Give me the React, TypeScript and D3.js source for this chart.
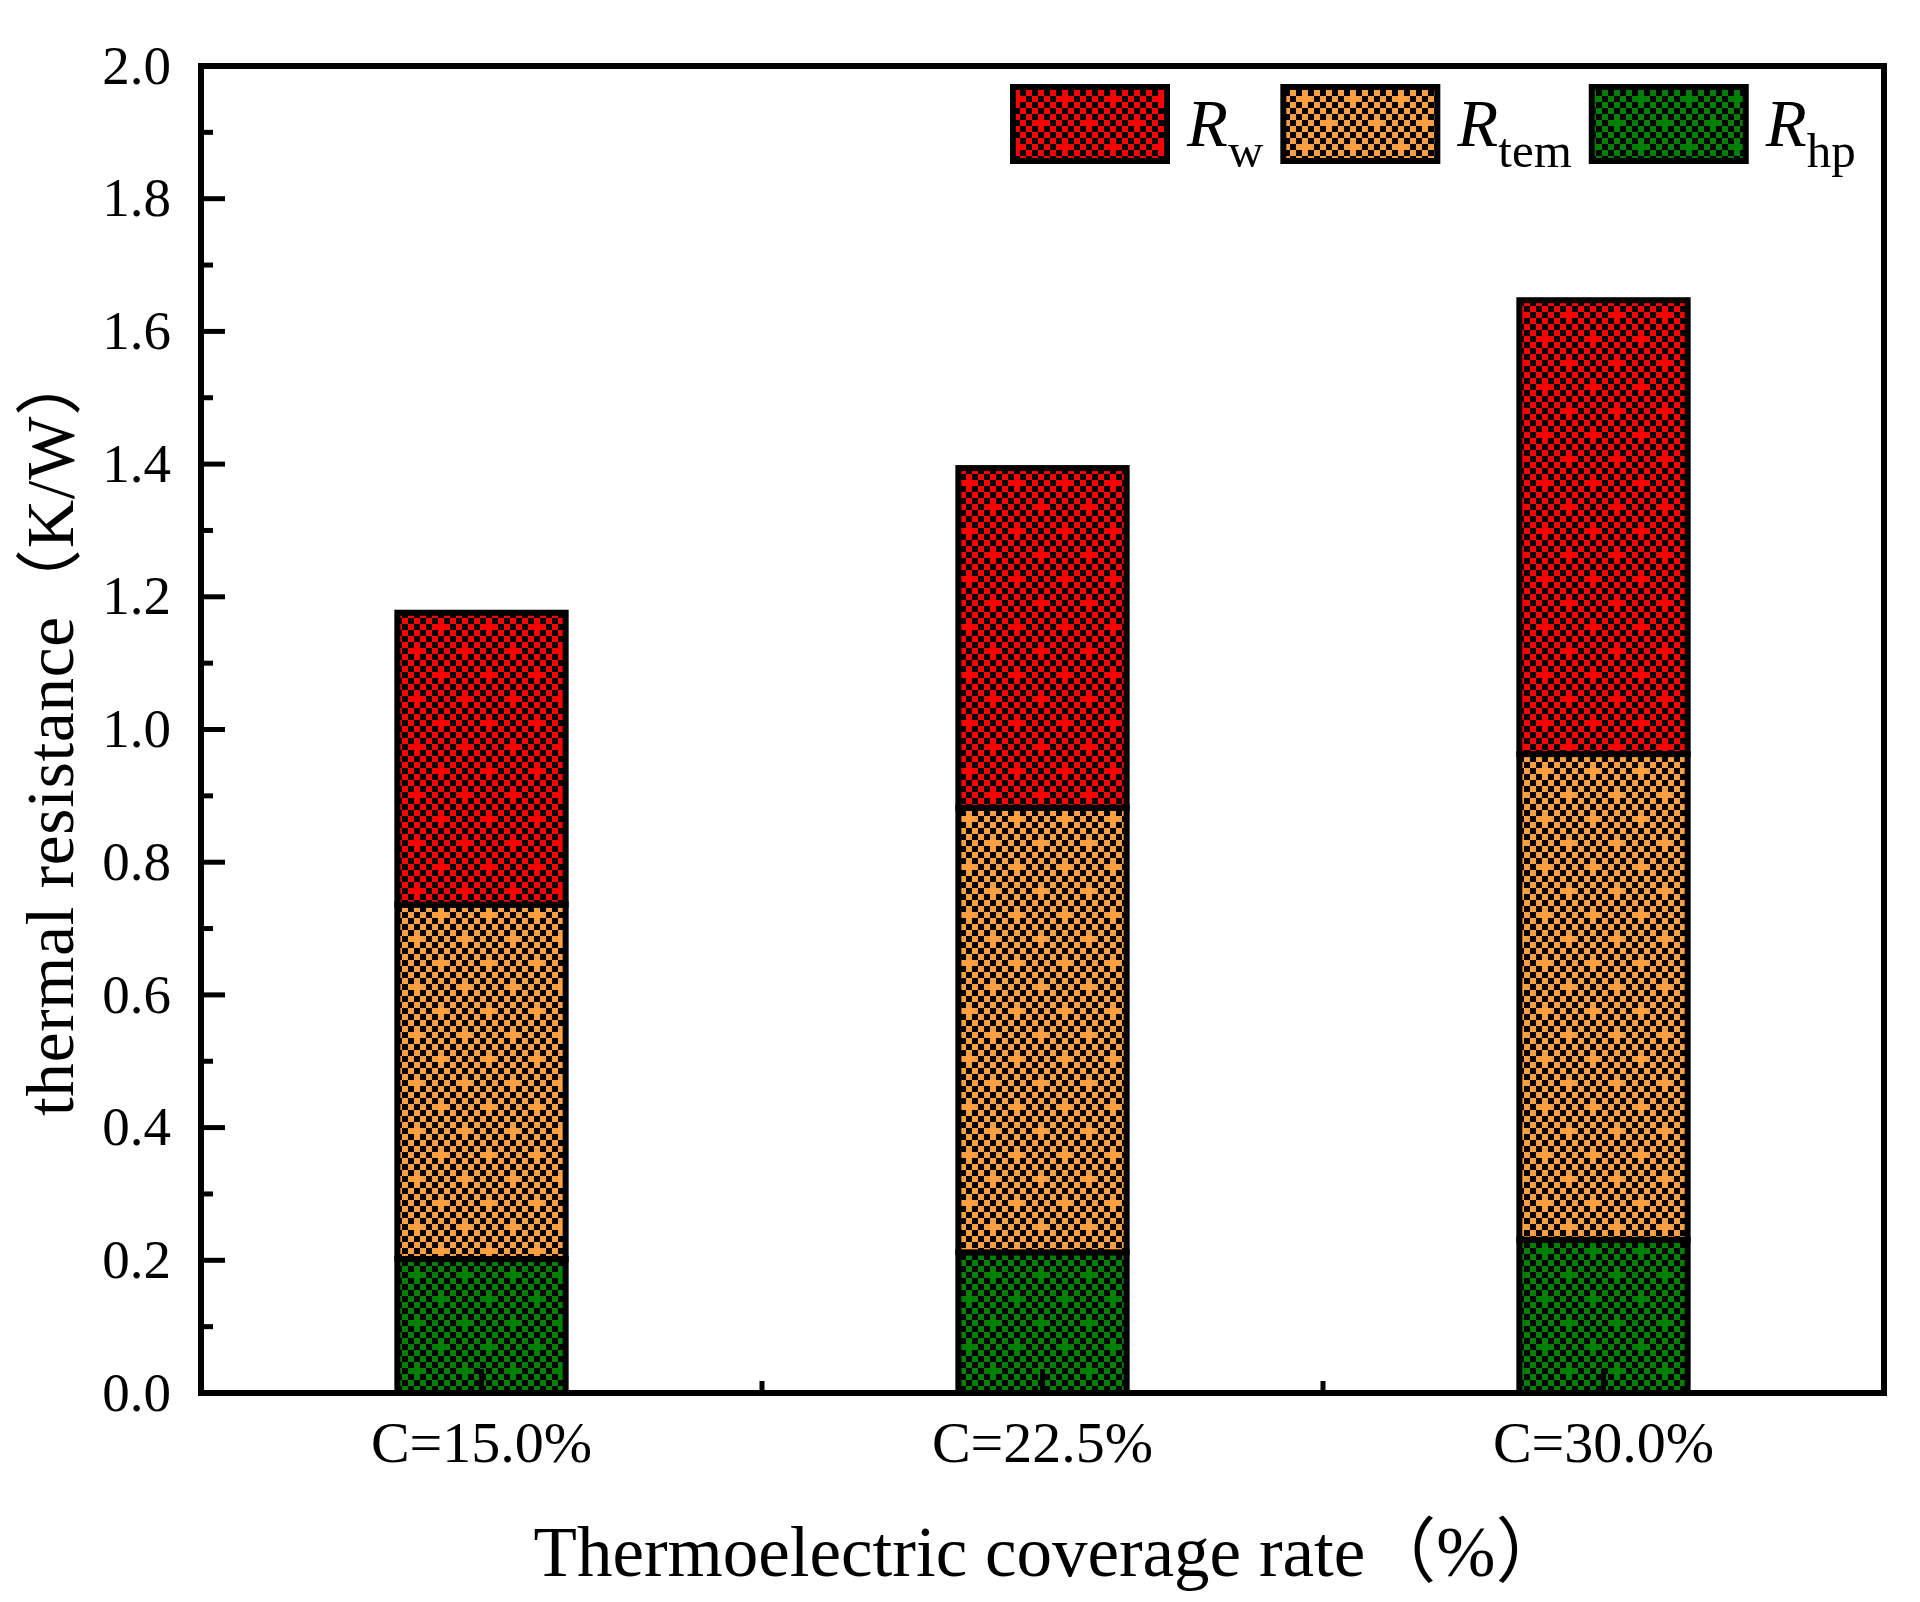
import React, { useEffect, useRef } from 'react';
import * as d3 from 'd3';

// bar categories and stacked values (K/W)
const categories = ['C=15.0%', 'C=22.5%', 'C=30.0%'];
const rHp = [0.202, 0.212, 0.231];
const rTem = [0.534, 0.670, 0.732];
const rW = [0.440, 0.512, 0.684];

const yMajorTicks = [0, 0.2, 0.4, 0.6, 0.8, 1.0, 1.2, 1.4, 1.6, 1.8, 2.0];
const yMinorTicks = [0.1, 0.3, 0.5, 0.7, 0.9, 1.1, 1.3, 1.5, 1.7, 1.9];

const stackKeys = ['hp', 'tem', 'w'];
const legendKeys = ['w', 'tem', 'hp'];
const colors: Record<string, string> = { hp: '#008000', tem: '#FFA040', w: '#FF0000' };

const W = 1920;
const H = 1602;
const FONT = "'Liberation Serif', 'Times New Roman', 'Noto Sans CJK SC', serif";

export default function App() {
  const svgRef = useRef<SVGSVGElement>(null);

  useEffect(() => {
    document.body.style.margin = '0';
    if (!svgRef.current) return;
    const svg = d3.select(svgRef.current);
    svg.selectAll('*').remove();

    const left = 201, right = 1884, top = 66, bottom = 1393;

    const x = d3.scaleBand<string>().domain(categories).range([left, right]).padding(0);
    const y = d3.scaleLinear().domain([0, 2]).range([bottom, top]);

    const rows = categories.map((c, i) => ({ cat: c, hp: rHp[i], tem: rTem[i], w: rW[i] }));
    const stacked = d3.stack<any>().keys(stackKeys)(rows);

    // checkerboard with small plus marks (extra coloured cell joins 4 neighbours)
    const defs = svg.append('defs');
    const cell = 6;
    const plusCentres = new Set(['1,0', '5,4']);
    stackKeys.forEach((k) => {
      const p = defs.append('pattern')
        .attr('id', `pat-${k}`)
        .attr('patternUnits', 'userSpaceOnUse')
        .attr('width', cell * 8)
        .attr('height', cell * 8)
        .attr('x', 0)
        .attr('y', 0);
      p.append('rect').attr('width', cell * 8).attr('height', cell * 8).attr('fill', '#000');
      for (let i = 0; i < 8; i++) {
        for (let j = 0; j < 8; j++) {
          if ((i + j) % 2 === 0 || plusCentres.has(`${i},${j}`)) {
            p.append('rect')
              .attr('x', i * cell).attr('y', j * cell)
              .attr('width', cell).attr('height', cell)
              .attr('fill', colors[k])
              .attr('shape-rendering', 'crispEdges');
          }
        }
      }
    });

    const barW = x.bandwidth() * 0.3;

    // bars
    stacked.forEach((layer) => {
      svg.append('g')
        .selectAll('rect')
        .data(layer)
        .enter()
        .append('rect')
        .attr('x', (d: any) => x(d.data.cat)! + x.bandwidth() / 2 - barW / 2)
        .attr('y', (d: any) => y(d[1]))
        .attr('width', barW)
        .attr('height', (d: any) => y(d[0]) - y(d[1]))
        .attr('fill', `url(#pat-${layer.key})`)
        .attr('stroke', '#000')
        .attr('stroke-width', 6);
    });

    // y ticks (inward)
    svg.append('g').selectAll('line.maj').data(yMajorTicks).enter().append('line')
      .attr('x1', left).attr('x2', left + 24)
      .attr('y1', (d) => y(d)).attr('y2', (d) => y(d))
      .attr('stroke', '#000').attr('stroke-width', 5);
    svg.append('g').selectAll('line.min').data(yMinorTicks).enter().append('line')
      .attr('x1', left).attr('x2', left + 12)
      .attr('y1', (d) => y(d)).attr('y2', (d) => y(d))
      .attr('stroke', '#000').attr('stroke-width', 5);

    svg.append('g').selectAll('text').data(yMajorTicks).enter().append('text')
      .attr('x', 171).attr('y', (d) => y(d)).attr('dy', '0.32em')
      .attr('text-anchor', 'end')
      .attr('font-family', FONT).attr('font-size', 55)
      .text((d) => d.toFixed(1));

    // x ticks: major at centres, minor at band edges
    svg.append('g').selectAll('line').data(categories).enter().append('line')
      .attr('x1', (d) => x(d)! + x.bandwidth() / 2).attr('x2', (d) => x(d)! + x.bandwidth() / 2)
      .attr('y1', bottom).attr('y2', bottom - 24)
      .attr('stroke', '#000').attr('stroke-width', 5);
    svg.append('g').selectAll('line').data(categories.slice(1)).enter().append('line')
      .attr('x1', (d) => x(d)!).attr('x2', (d) => x(d)!)
      .attr('y1', bottom).attr('y2', bottom - 12)
      .attr('stroke', '#000').attr('stroke-width', 5);

    svg.append('g').selectAll('text').data(categories).enter().append('text')
      .attr('x', (d) => x(d)! + x.bandwidth() / 2).attr('y', 1462)
      .attr('text-anchor', 'middle')
      .attr('font-family', FONT).attr('font-size', 58)
      .text((d) => d);

    // frame
    svg.append('rect')
      .attr('x', left).attr('y', top)
      .attr('width', right - left).attr('height', bottom - top)
      .attr('fill', 'none').attr('stroke', '#000').attr('stroke-width', 6);

    // axis titles
    svg.append('text')
      .attr('x', 1050).attr('y', 1576)
      .attr('text-anchor', 'middle')
      .attr('font-family', FONT).attr('font-size', 71)
      .text('Thermoelectric coverage rate（%）');

    svg.append('text')
      .attr('transform', `translate(73, 732) rotate(-90)`)
      .attr('text-anchor', 'middle')
      .attr('font-family', FONT).attr('font-size', 67)
      .attr('letter-spacing', 0.8)
      .text('thermal resistance（K/W）');

    // legend
    let lx = 1010;
    const ly = 84;
    legendKeys.forEach((k) => {
      svg.append('rect')
        .attr('x', lx + 3).attr('y', ly + 3)
        .attr('width', 154).attr('height', 74)
        .attr('fill', `url(#pat-${k})`)
        .attr('stroke', '#000').attr('stroke-width', 6);
      const t = svg.append('text')
        .attr('x', lx + 177).attr('y', 146)
        .attr('font-family', FONT).attr('font-size', 67);
      t.append('tspan').attr('font-style', 'italic').text('R');
      t.append('tspan').attr('dy', 21).attr('font-size', 49).text(k);
      const tw = (t.node() as SVGTextElement).getComputedTextLength();
      lx = lx + 177 + tw + 17;
    });
  }, []);

  return <svg ref={svgRef} width={W} height={H} style={{ display: 'block', background: '#fff' }} />;
}
